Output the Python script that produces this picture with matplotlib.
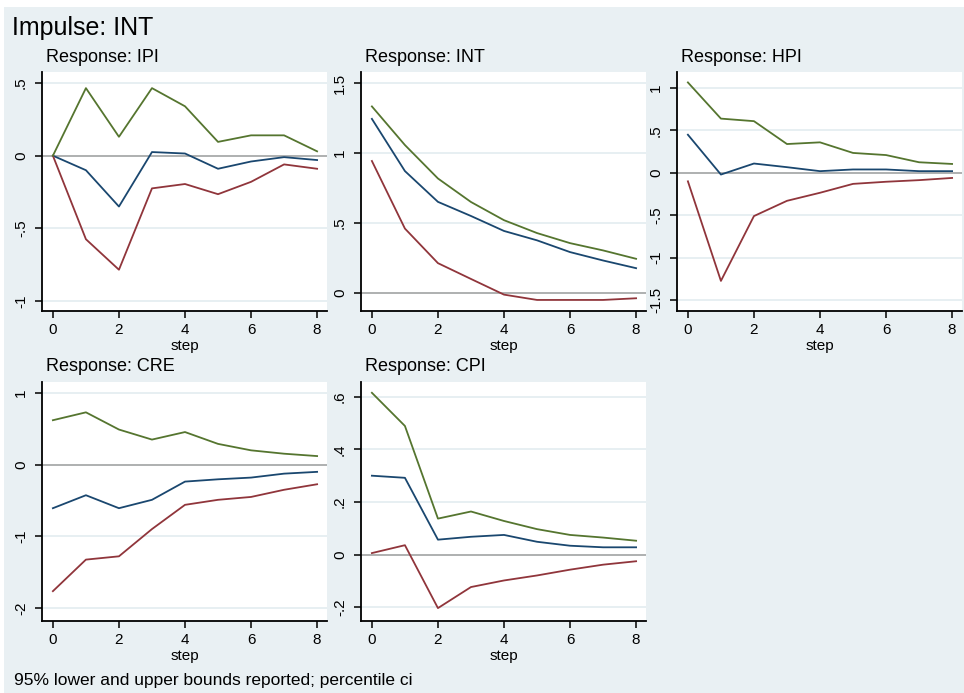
import matplotlib
matplotlib.use("Agg")
import matplotlib.pyplot as plt
from matplotlib.patches import Rectangle

plt.rcParams['font.family'] = ['Liberation Sans', 'DejaVu Sans']

# data (impulse: INT)
steps = [0, 1, 2, 3, 4, 5, 6, 7, 8]

ipi_irf = [0, -0.10, -0.35, 0.025, 0.015, -0.09, -0.04, -0.01, -0.03]
ipi_lo = [0, -0.575, -0.785, -0.225, -0.195, -0.265, -0.18, -0.06, -0.09]
ipi_hi = [0, 0.465, 0.13, 0.465, 0.34, 0.095, 0.14, 0.14, 0.03]

int_irf = [1.244, 0.871, 0.651, 0.55, 0.443, 0.376, 0.292, 0.232, 0.177]
int_lo = [0.943, 0.46, 0.213, 0.10, -0.012, -0.05, -0.05, -0.05, -0.038]
int_hi = [1.333, 1.057, 0.818, 0.65, 0.52, 0.428, 0.356, 0.304, 0.244]

hpi_irf = [0.45, -0.02, 0.11, 0.067, 0.02, 0.04, 0.04, 0.02, 0.02]
hpi_lo = [-0.10, -1.275, -0.51, -0.33, -0.235, -0.13, -0.105, -0.086, -0.06]
hpi_hi = [1.067, 0.64, 0.61, 0.34, 0.36, 0.235, 0.21, 0.125, 0.105]

cre_irf = [-0.607, -0.426, -0.607, -0.49, -0.236, -0.204, -0.18, -0.125, -0.10]
cre_lo = [-1.764, -1.324, -1.278, -0.898, -0.56, -0.49, -0.45, -0.35, -0.273]
cre_hi = [0.62, 0.73, 0.49, 0.35, 0.455, 0.29, 0.2, 0.153, 0.12]

cpi_irf = [0.30, 0.292, 0.057, 0.068, 0.075, 0.049, 0.034, 0.028, 0.028]
cpi_lo = [0.006, 0.036, -0.203, -0.123, -0.098, -0.079, -0.057, -0.038, -0.025]
cpi_hi = [0.615, 0.489, 0.137, 0.164, 0.128, 0.097, 0.075, 0.065, 0.053]

x_ticks = [0, 2, 4, 6, 8]

panels = [
    ("IPI", ipi_irf, ipi_lo, ipi_hi, [-1, -0.5, 0, 0.5], ["-1", "-.5", "0", ".5"], (-1.069, 0.576)),
    ("INT", int_irf, int_lo, int_hi, [0, 0.5, 1, 1.5], ["0", ".5", "1", "1.5"], (-0.129, 1.579)),
    ("HPI", hpi_irf, hpi_lo, hpi_hi, [-1.5, -1, -0.5, 0, 0.5, 1], ["-1.5", "-1", "-.5", "0", ".5", "1"], (-1.63, 1.19)),
    ("CRE", cre_irf, cre_lo, cre_hi, [-2, -1, 0, 1], ["-2", "-1", "0", "1"], (-2.18, 1.153)),
    ("CPI", cpi_irf, cpi_lo, cpi_hi, [-0.2, 0, 0.2, 0.4, 0.6], ["-.2", "0", ".2", ".4", ".6"], (-0.252, 0.656)),
]

W, H = 964, 693
bg = "#e9f0f3"
grid_c = "#e3ecf0"
c_irf, c_lo, c_hi = "#1a476f", "#90353b", "#55752f"

fig = plt.figure(figsize=(W / 100, H / 100), dpi=100, facecolor="white")
fig.patches.append(Rectangle((4 / W, 0), 1, 1 - 7 / H, transform=fig.transFigure,
                             facecolor=bg, edgecolor="none", zorder=-10))

lefts = [42, 361, 677]
tops = [72, 382]
pw, ph = 285, 239

for i, (name, irf, lo, hi, yt, ylab, ylim) in enumerate(panels):
    r, c = divmod(i, 3)
    ax = fig.add_axes([lefts[c] / W, 1 - (tops[r] + ph) / H, pw / W, ph / H])
    ax.set_facecolor("white")
    for y in yt:
        ax.axhline(y, color=grid_c, lw=1.2, zorder=1)
    ax.axhline(0, color="#a6a6a6", lw=1.2, zorder=2)
    ax.plot(steps, irf, color=c_irf, lw=1.3, zorder=3)
    ax.plot(steps, lo, color=c_lo, lw=1.3, zorder=3)
    ax.plot(steps, hi, color=c_hi, lw=1.3, zorder=3)

    ax.set_xlim(-0.33, 8.3)
    ax.set_ylim(*ylim)
    ax.set_xticks(x_ticks)
    ax.set_yticks(yt)
    ax.set_yticklabels(ylab, rotation=90, va="center")
    ax.tick_params(labelsize=11, length=5, width=1.1, color="black", pad=4)
    ax.tick_params(axis="y", pad=5)
    for s in ["top", "right"]:
        ax.spines[s].set_visible(False)
    for s in ["left", "bottom"]:
        ax.spines[s].set_linewidth(1.3)
    ax.set_xlabel("step", fontsize=11, labelpad=1)
    ax.text(4 / pw, 1 + 15 / ph, "Response: " + name, transform=ax.transAxes,
            fontsize=13, ha="left", va="center")

fig.text(12 / W, 1 - 28 / H, "Impulse: INT", fontsize=18, ha="left", va="center")
fig.text(14 / W, 1 - 680 / H, "95% lower and upper bounds reported; percentile ci",
         fontsize=12.5, ha="left", va="center")

fig.savefig("out.png", dpi=100, facecolor=fig.get_facecolor())
